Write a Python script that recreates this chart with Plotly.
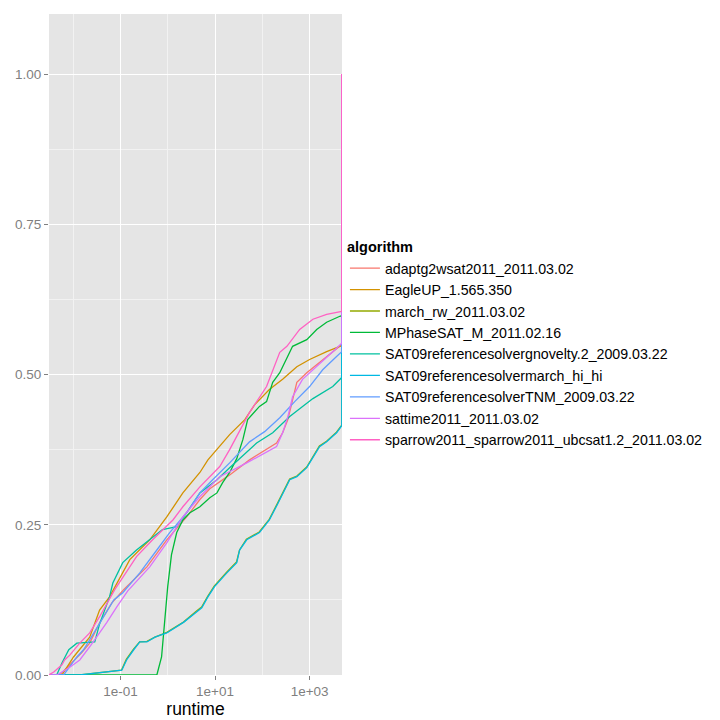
import plotly.graph_objects as go

# ---------------- data ----------------
algorithms = [
    "adaptg2wsat2011_2011.03.02",
    "EagleUP_1.565.350",
    "march_rw_2011.03.02",
    "MPhaseSAT_M_2011.02.16",
    "SAT09referencesolvergnovelty.2_2009.03.22",
    "SAT09referencesolvermarch_hi_hi",
    "SAT09referencesolverTNM_2009.03.22",
    "sattime2011_2011.03.02",
    "sparrow2011_sparrow2011_ubcsat1.2_2011.03.02",
]
colors = ["#F8766D", "#D39200", "#93AA00", "#00BA38", "#00C19F",
          "#00B9E3", "#619CFF", "#DB72FB", "#FF61C3"]

MIN_RUNTIME = 0.0031   # left end of the ECDF
CUTOFF = 4786          # time-out: every ECDF jumps to 1 here

adaptg2wsat_rt = [0.0052, 0.0151, 0.0224, 0.0363, 0.0661, 0.117, 0.363, 0.955, 2.51, 4.79,
                  7.76, 20.4, 53.7, 200, 269, 347, 437, 537, 871, 1622, 3090, 4786]
adaptg2wsat_fr = [0, 0.037, 0.053, 0.087, 0.12, 0.142, 0.18, 0.225, 0.263, 0.292,
                  0.31, 0.333, 0.358, 0.386, 0.403, 0.425, 0.458, 0.487, 0.503, 0.52, 0.538, 0.55]

eagleup_rt = [0.0058, 0.0102, 0.0138, 0.0224, 0.0363, 0.0589, 0.158, 0.417, 0.955, 2.09,
              4.79, 7.08, 20.4, 42.7, 69.2, 141, 269, 537, 1000, 2291, 4786]
eagleup_fr = [0, 0.03, 0.042, 0.063, 0.108, 0.13, 0.192, 0.225, 0.263, 0.303,
              0.337, 0.358, 0.40, 0.425, 0.45, 0.475, 0.492, 0.513, 0.525, 0.538, 0.548]

march_rw_rt = [0.0138, 0.105, 0.133, 0.189, 0.255, 0.363, 0.537, 0.955, 2.15, 4.0, 5.2,
               7.0, 9.6, 17.6, 28.5, 33.0, 46.0, 86.0, 140, 210, 378, 537, 868, 1610,
               2280, 3700, 4786]
march_rw_fr = [0, 0.008, 0.026, 0.043, 0.055, 0.056, 0.063, 0.071, 0.088, 0.106, 0.113,
               0.131, 0.148, 0.171, 0.188, 0.208, 0.226, 0.238, 0.259, 0.286, 0.326, 0.331,
               0.346, 0.381, 0.389, 0.404, 0.416]

mphasesat_rt = [0.589, 0.741, 0.871, 1.0, 1.20, 1.55, 2.09, 2.95, 4.79, 7.76, 11.0, 14.5,
                20.4, 28.8, 38.9, 49.0, 87.1, 123, 166, 234, 437, 871, 1413, 2291, 4365, 4786]
mphasesat_fr = [0, 0.03, 0.09, 0.147, 0.2, 0.237, 0.258, 0.27, 0.28, 0.295, 0.303, 0.32,
                0.337, 0.36, 0.392, 0.425, 0.447, 0.455, 0.487, 0.503, 0.547, 0.558, 0.575,
                0.587, 0.597, 0.598]

gnovelty_rt = [0.0045, 0.0058, 0.0081, 0.012, 0.0287, 0.0363, 0.0589, 0.0692, 0.112, 0.219,
               0.417, 0.776, 1.55, 2.51, 4.79, 11.0, 20.4, 75.9, 166, 380, 617, 1175, 3090, 4786]
gnovelty_fr = [0, 0.02, 0.042, 0.053, 0.055, 0.085, 0.13, 0.153, 0.187, 0.208,
               0.225, 0.242, 0.247, 0.27, 0.303, 0.325, 0.345, 0.386, 0.403, 0.43, 0.443,
               0.46, 0.48, 0.495]

march_hi_hi_rt = [0.0138, 0.107, 0.135, 0.191, 0.257, 0.363, 0.537, 0.955, 2.19, 4.07, 5.25,
                  7.08, 9.77, 17.8, 28.8, 33.1, 46.8, 87.1, 141, 212, 380, 537, 871, 1622,
                  2291, 3715, 4786]
march_hi_hi_fr = [0, 0.008, 0.025, 0.042, 0.055, 0.055, 0.063, 0.07, 0.088, 0.105, 0.112,
                  0.13, 0.147, 0.17, 0.187, 0.208, 0.225, 0.237, 0.258, 0.285, 0.325, 0.33,
                  0.345, 0.38, 0.388, 0.403, 0.415]

tnm_rt = [0.0063, 0.012, 0.0166, 0.0275, 0.0447, 0.0724, 0.112, 0.257, 0.589, 1.10, 2.51,
          4.79, 8.91, 20.4, 53.7, 112, 234, 484, 1000, 1890, 3715, 4786]
tnm_fr = [0, 0.03, 0.042, 0.07, 0.097, 0.125, 0.137, 0.17, 0.208, 0.237, 0.27,
          0.303, 0.325, 0.353, 0.388, 0.405, 0.428, 0.455, 0.48, 0.508, 0.53, 0.538]

sattime_rt = [0.0045, 0.0085, 0.0138, 0.0224, 0.0363, 0.0513, 0.0832, 0.143, 0.417, 0.955,
              2.09, 4.79, 12.6, 46.8, 200, 269, 347, 437, 708, 1622, 3090, 4786]
sattime_fr = [0, 0.013, 0.025, 0.047, 0.07, 0.087, 0.113, 0.14, 0.18, 0.22,
              0.263, 0.297, 0.33, 0.353, 0.38, 0.403, 0.43, 0.463, 0.492, 0.517, 0.538, 0.552]

sparrow_rt = [0.00305, 0.0039, 0.0050, 0.0058, 0.0066, 0.0085, 0.0138, 0.0224, 0.0363,
              0.0589, 0.0759, 0.219, 0.479, 1.29, 2.09, 4.79, 12.6, 20.4, 53.7, 123, 234,
              331, 617, 1175, 2291, 4786]
sparrow_fr = [0, 0.005, 0.012, 0.017, 0.025, 0.033, 0.053, 0.07, 0.097, 0.125, 0.142,
              0.197, 0.225, 0.258, 0.28, 0.313, 0.347, 0.375, 0.437, 0.48, 0.537, 0.547,
              0.575, 0.592, 0.60, 0.605]

runtimes = [adaptg2wsat_rt, eagleup_rt, march_rw_rt, mphasesat_rt, gnovelty_rt,
            march_hi_hi_rt, tnm_rt, sattime_rt, sparrow_rt]
fractions = [adaptg2wsat_fr, eagleup_fr, march_rw_fr, mphasesat_fr, gnovelty_fr,
             march_hi_hi_fr, tnm_fr, sattime_fr, sparrow_fr]

x_tickvals = [0.1, 10, 1000]
x_ticktext = ["1e-01", "1e+01", "1e+03"]
x_minor = [0.01, 1, 100]
y_tickvals = [0, 0.25, 0.5, 0.75, 1.0]
y_minor = [0.125, 0.375, 0.625, 0.875]

# ---------------- figure ----------------
fig = go.Figure()
for name, col, rt, fr in zip(algorithms, colors, runtimes, fractions):
    xs = [MIN_RUNTIME] + rt + [CUTOFF]
    ys = [0] + fr + [1.0]
    fig.add_trace(go.Scatter(x=xs, y=ys, mode="lines", name=name,
                             line=dict(color=col, width=1.3)))

FONT = "Liberation Sans, Arial, sans-serif"
fig.update_layout(
    width=720, height=720,
    margin=dict(l=49, r=378, t=14, b=45),
    paper_bgcolor="white",
    plot_bgcolor="#E5E5E5",
    font=dict(family=FONT, size=13, color="black"),
    showlegend=True,
    legend=dict(
        title=dict(text="<b>algorithm</b>", font=dict(size=14.5, family=FONT)),
        x=1.01, xanchor="left", y=0.5, yanchor="middle",
        font=dict(size=14.2, family=FONT, color="black"),
        bgcolor="rgba(255,255,255,0)", itemwidth=30,
        tracegroupgap=0,
    ),
    xaxis=dict(
        type="log",
        range=[-2.51, 3.685],
        tickvals=x_tickvals, ticktext=x_ticktext,
        showgrid=True, gridcolor="white", gridwidth=1.3,
        minor=dict(tickvals=x_minor, showgrid=True, gridcolor="#F2F2F2",
                   gridwidth=0.8, ticklen=0),
        ticks="outside", ticklen=4, tickcolor="#7F7F7F", tickwidth=1,
        tickfont=dict(size=13.5, color="#7F7F7F", family=FONT),
        zeroline=False, showline=False, automargin=False,
        title=dict(text="runtime", font=dict(size=17.5, color="black", family=FONT),
                   standoff=0),
    ),
    yaxis=dict(
        range=[0, 1.1],
        tickvals=y_tickvals, tickformat=".2f",
        showgrid=True, gridcolor="white", gridwidth=1.3,
        minor=dict(tickvals=y_minor, showgrid=True, gridcolor="#F2F2F2",
                   gridwidth=0.8, ticklen=0),
        ticks="outside", ticklen=4, tickcolor="#7F7F7F", tickwidth=1,
        tickfont=dict(size=13.5, color="#7F7F7F", family=FONT),
        zeroline=False, showline=False, automargin=False,
    ),
)

fig.write_html("out.html")
